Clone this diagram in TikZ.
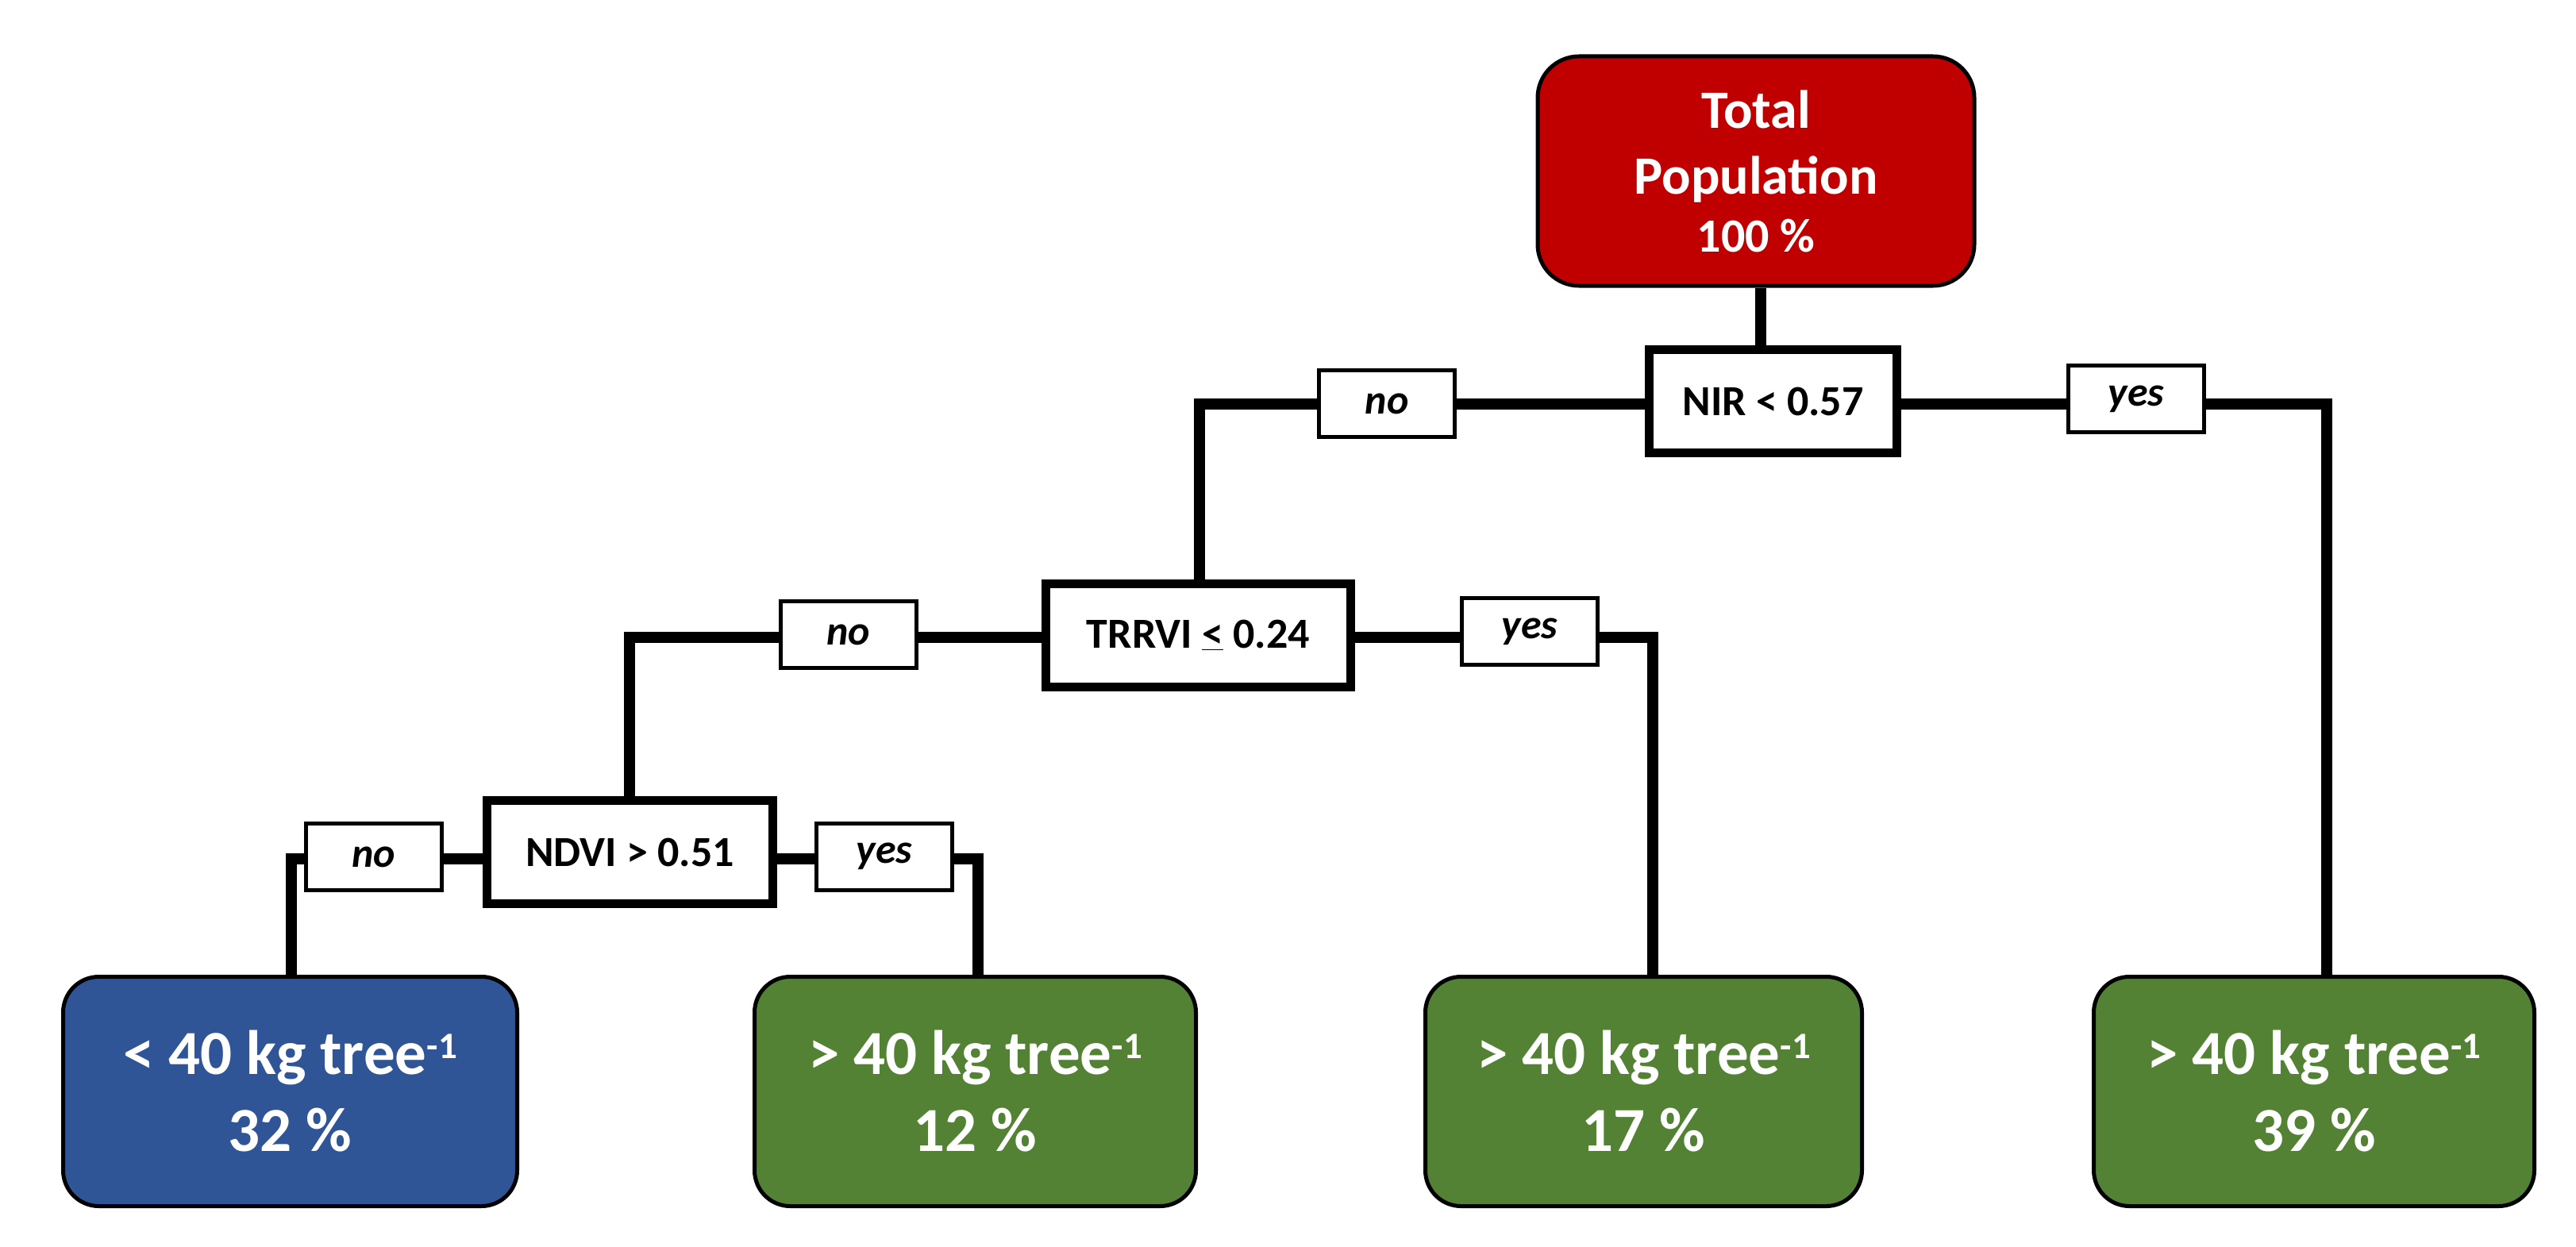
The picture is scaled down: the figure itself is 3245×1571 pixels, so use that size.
\documentclass[tikz,border=0pt]{standalone}
\usepackage{fontspec}
\setmainfont{Carlito}
\definecolor{cred}{HTML}{C00000}
\definecolor{cblue}{HTML}{2F5597}
\definecolor{cgreen}{HTML}{548235}
\newcommand{\perunit}{\raisebox{20pt}{\fontsize{47}{50}\selectfont -1}}
\begin{document}
\begin{tikzpicture}[x=1pt,y=-1pt,
  conn/.style={line width=14pt},
  cond/.style={draw, line width=11pt, fill=white, minimum height=130pt, inner sep=0pt, font=\fontsize{54}{60}\selectfont\bfseries},
  lbl/.style={draw, line width=5pt, fill=white, minimum width=171pt, minimum height=84pt, inner sep=0pt, font=\fontsize{52}{60}\selectfont\bfseries\itshape},
  leaf/.style={draw, line width=5pt, rounded corners=45pt, minimum height=289pt, inner sep=0pt, text=white, align=center, font=\fontsize{79}{97}\selectfont\bfseries},
  rootbox/.style={draw, line width=5pt, rounded corners=52pt, fill=cred, text=white, align=center, inner sep=0pt, font=\fontsize{68}{83}\selectfont\bfseries}
]
\useasboundingbox (0,0) rectangle (3245,1571);

% nodes
\node[rootbox, minimum width=550pt, minimum height=289pt] (root) at (2212,215.5)
  {Total\\Population\\[-10pt]{\fontsize{60}{72}\selectfont 100 \%}};

\node[cond, minimum width=312pt] (nir) at (2233.5,505.5) {NIR < 0.57};
\node[cond, minimum width=384pt] (trrvi) at (1509.5,800) {TRRVI \underline{<} 0.24};
\node[cond, minimum width=360pt] (ndvi) at (793.5,1073.5) {NDVI > 0.51};

\node[lbl] (nirno) at (1747,508.5) {no};
\node[lbl] (niryes) at (2691,502.5) {yes};
\node[lbl] (trrvino) at (1069,799.5) {no};
\node[lbl] (trrviyes) at (1927,795.5) {yes};
\node[lbl] (ndvino) at (471,1079.5) {no};
\node[lbl] (ndviyes) at (1114,1079) {yes};

\node[leaf, fill=cblue, minimum width=572pt] (leafa) at (365.5,1375) {< 40 kg tree\perunit\\32 \%};
\node[leaf, fill=cgreen, minimum width=556pt] (leafb) at (1228.5,1375) {> 40 kg tree\perunit\\12 \%};
\node[leaf, fill=cgreen, minimum width=550pt] (leafc) at (2070.5,1375) {> 40 kg tree\perunit\\17 \%};
\node[leaf, fill=cgreen, minimum width=555pt] (leafd) at (2915,1375) {> 40 kg tree\perunit\\39 \%};

% corner coordinates
\coordinate (k0) at (2218,400);
\coordinate (k1) at (1511,509);
\coordinate (k2) at (2931,509);
\coordinate (k3) at (793,803);
\coordinate (k4) at (2082,803);
\coordinate (k5) at (367,1082);
\coordinate (k6) at (1232,1082);

% connectors
\draw[conn] (root.south -| k0) -- (nir.north -| k0);

\draw[conn] (nir.west |- k1) -- (nirno.east |- k1);
\draw[conn] (nirno.west |- k1) -- (k1) -- (trrvi.north -| k1);
\draw[conn] (nir.east |- k2) -- (niryes.west |- k2);
\draw[conn] (niryes.east |- k2) -- (k2) -- (leafd.north -| k2);

\draw[conn] (trrvi.west |- k3) -- (trrvino.east |- k3);
\draw[conn] (trrvino.west |- k3) -- (k3) -- (ndvi.north -| k3);
\draw[conn] (trrvi.east |- k4) -- (trrviyes.west |- k4);
\draw[conn] (trrviyes.east |- k4) -- (k4) -- (leafc.north -| k4);

\draw[conn] (ndvi.west |- k5) -- (ndvino.east |- k5);
\draw[conn] (ndvino.west |- k5) -- (k5) -- (leafa.north -| k5);
\draw[conn] (ndvi.east |- k6) -- (ndviyes.west |- k6);
\draw[conn] (ndviyes.east |- k6) -- (k6) -- (leafb.north -| k6);
\end{tikzpicture}
\end{document}
